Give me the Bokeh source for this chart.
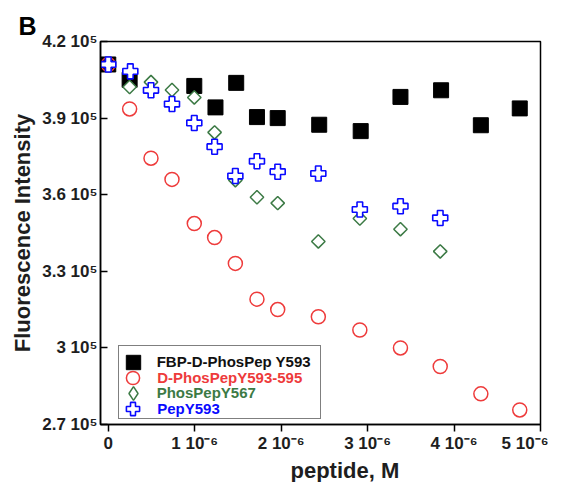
from bokeh.plotting import figure
from bokeh.models import Legend, LegendItem, FixedTicker, CustomJSTickFormatter, Range1d, Title
from bokeh.core.properties import value
from bokeh.embed import file_html
from bokeh.resources import INLINE
import math

# ---- data (peptide concentration in M, fluorescence intensity) ----
fbp_x = [0, 0.247e-6, 0.995e-6, 1.24e-6, 1.48e-6, 1.72e-6, 1.96e-6, 2.44e-6, 2.92e-6, 3.38e-6, 3.85e-6, 4.31e-6, 4.76e-6]
fbp_y = [4.11e5, 4.05e5, 4.026e5, 3.942e5, 4.038e5, 3.904e5, 3.900e5, 3.874e5, 3.849e5, 3.983e5, 4.009e5, 3.872e5, 3.938e5]

dphos_x = [0, 0.247e-6, 0.494e-6, 0.737e-6, 0.995e-6, 1.23e-6, 1.47e-6, 1.72e-6, 1.96e-6, 2.43e-6, 2.91e-6, 3.38e-6, 3.84e-6, 4.31e-6, 4.76e-6]
dphos_y = [4.11e5, 3.936e5, 3.743e5, 3.660e5, 3.487e5, 3.432e5, 3.331e5, 3.191e5, 3.150e5, 3.122e5, 3.070e5, 3.000e5, 2.927e5, 2.820e5, 2.757e5]

phos_x = [0, 0.247e-6, 0.494e-6, 0.737e-6, 0.995e-6, 1.23e-6, 1.47e-6, 1.72e-6, 1.96e-6, 2.43e-6, 2.91e-6, 3.38e-6, 3.84e-6]
phos_y = [4.11e5, 4.022e5, 4.041e5, 4.010e5, 3.981e5, 3.844e5, 3.657e5, 3.590e5, 3.567e5, 3.417e5, 3.507e5, 3.465e5, 3.378e5]

pep_x = [0, 0.255e-6, 0.494e-6, 0.737e-6, 0.995e-6, 1.23e-6, 1.47e-6, 1.72e-6, 1.96e-6, 2.43e-6, 2.91e-6, 3.38e-6, 3.84e-6]
pep_y = [4.11e5, 4.083e5, 4.009e5, 3.955e5, 3.881e5, 3.788e5, 3.673e5, 3.731e5, 3.690e5, 3.683e5, 3.542e5, 3.555e5, 3.509e5]

series_names = ["FBP-D-PhosPep Y593", "D-PhosPepY593-595", "PhosPepY567", "PepY593"]
x_ticks = [0, 1e-6, 2e-6, 3e-6, 4e-6, 5e-6]
y_ticks = [270000, 300000, 330000, 360000, 390000, 420000]

FONT = "Liberation Sans"
RED = "#ee3b3b"
GREEN = "#3c7a45"
BLUE = "#0a0aff"
TXT = "#1e1e1e"

p = figure(width=548, height=482, output_backend="svg", toolbar_location=None,
           x_range=Range1d(-0.09e-6, 5.0e-6), y_range=Range1d(2.7e5, 4.2e5),
           min_border_left=100, min_border_right=8, min_border_top=41, min_border_bottom=57)
p.xgrid.visible = False
p.ygrid.visible = False
p.outline_line_color = "black"
p.outline_line_width = 1.5
p.background_fill_color = "white"
p.border_fill_color = "white"

p.title.text = "B"
p.title.text_font = FONT
p.title.text_font_size = "25px"
p.title.text_font_style = "bold"
p.title.text_color = "black"
p.title.align = "left"
p.title.offset = -82
p.title.standoff = 4

r_fbp = p.scatter(fbp_x, fbp_y, marker="square", size=15, fill_color="black", line_color="black")
r_dp = p.scatter(dphos_x, dphos_y, marker="circle", size=14, fill_color=None, line_color=RED, line_width=1.5)
# zero-size diamond renderer, used only for the legend symbol (hidden under the real markers)
leg_ph = p.scatter(phos_x, phos_y, marker="diamond", size=0, fill_color="white", line_color=GREEN,
                   line_width=1.5)
r_ph = p.scatter(phos_x, phos_y, marker="square", angle=math.pi / 4, size=9.5, fill_color="white",
                 line_color=GREEN, line_width=1.5)
r_pep = p.scatter(pep_x, pep_y, marker="plus", size=15, fill_color="white", line_color=BLUE, line_width=1.6)
dummy = p.scatter(x=[], y=[], marker="square", fill_alpha=0, line_alpha=0)

# axes
p.xaxis.ticker = FixedTicker(ticks=x_ticks)
p.xaxis.formatter = CustomJSTickFormatter(code="""
    if (Math.abs(tick) < 1e-12) return "0";
    return Math.round(tick * 1e6) + " 10\u207b\u2076";
""")
p.yaxis.ticker = FixedTicker(ticks=y_ticks)
p.yaxis.formatter = CustomJSTickFormatter(code="""
    var v = (tick / 1e5).toFixed(1).replace(/\\.0$/, "");
    return v + " 10\u2075";
""")
for ax in (p.xaxis, p.yaxis):
    ax.axis_line_width = 1.5
    ax.major_tick_line_width = 1.5
    ax.minor_tick_line_color = None
    ax.major_label_text_font = FONT
    ax.major_label_text_font_style = "bold"
    ax.major_label_text_font_size = "17px"
    ax.major_label_text_color = TXT
    ax.axis_label_text_font = FONT
    ax.axis_label_text_font_style = "bold"
    ax.axis_label_text_font_size = "22px"
    ax.axis_label_text_color = TXT

p.xaxis.major_tick_in = 0
p.xaxis.major_tick_out = 7
p.xaxis.major_label_standoff = 2

p.yaxis.major_tick_in = 7
p.yaxis.major_tick_out = 0
p.yaxis.major_label_standoff = 3
p.yaxis.axis_label = "Fluorescence Intensity"
p.yaxis.axis_label_standoff = 4

# x-axis title, set slightly right of centre as in the original
xlab = Title(text="peptide, M", align="left", offset=190, text_font=FONT, text_font_size="22px",
             text_font_style="bold", text_color=TXT, standoff=0)
p.add_layout(xlab, "below")

# legend: bordered box + coloured single-item legends overlaid on it
LX, LY = 18, 5
box = Legend(items=[LegendItem(label=value(""), renderers=[dummy])],
             location=(LX, LY), margin=0, padding=6, spacing=0,
             glyph_width=17, glyph_height=60, label_height=60, label_width=157, label_standoff=15,
             label_text_alpha=0, border_line_color="black", border_line_width=1.5,
             background_fill_color="white", background_fill_alpha=1.0)
p.add_layout(box, "center")

renderers = [r_fbp, r_dp, leg_ph, r_pep]
colors = ["#111111", RED, GREEN, BLUE]
glyph_boxes = [36, 33, 34, 33]
row_centres = [62.3, 47.0, 31.3, 15.7]
for n, r, c, g, cy in zip(series_names, renderers, colors, glyph_boxes, row_centres):
    lg = Legend(items=[LegendItem(label=value(n), renderers=[r])],
                location=(LX + 14.7 - g / 2, cy - g / 2), margin=0, padding=0, spacing=0,
                glyph_width=g, glyph_height=g, label_height=g, label_standoff=int(round(24 - g / 2)),
                border_line_alpha=0, background_fill_alpha=0, label_text_color=c,
                label_text_font=FONT, label_text_font_style="bold", label_text_font_size="15px")
    p.add_layout(lg, "center")

open("out.html", "w").write(file_html(p, INLINE))
